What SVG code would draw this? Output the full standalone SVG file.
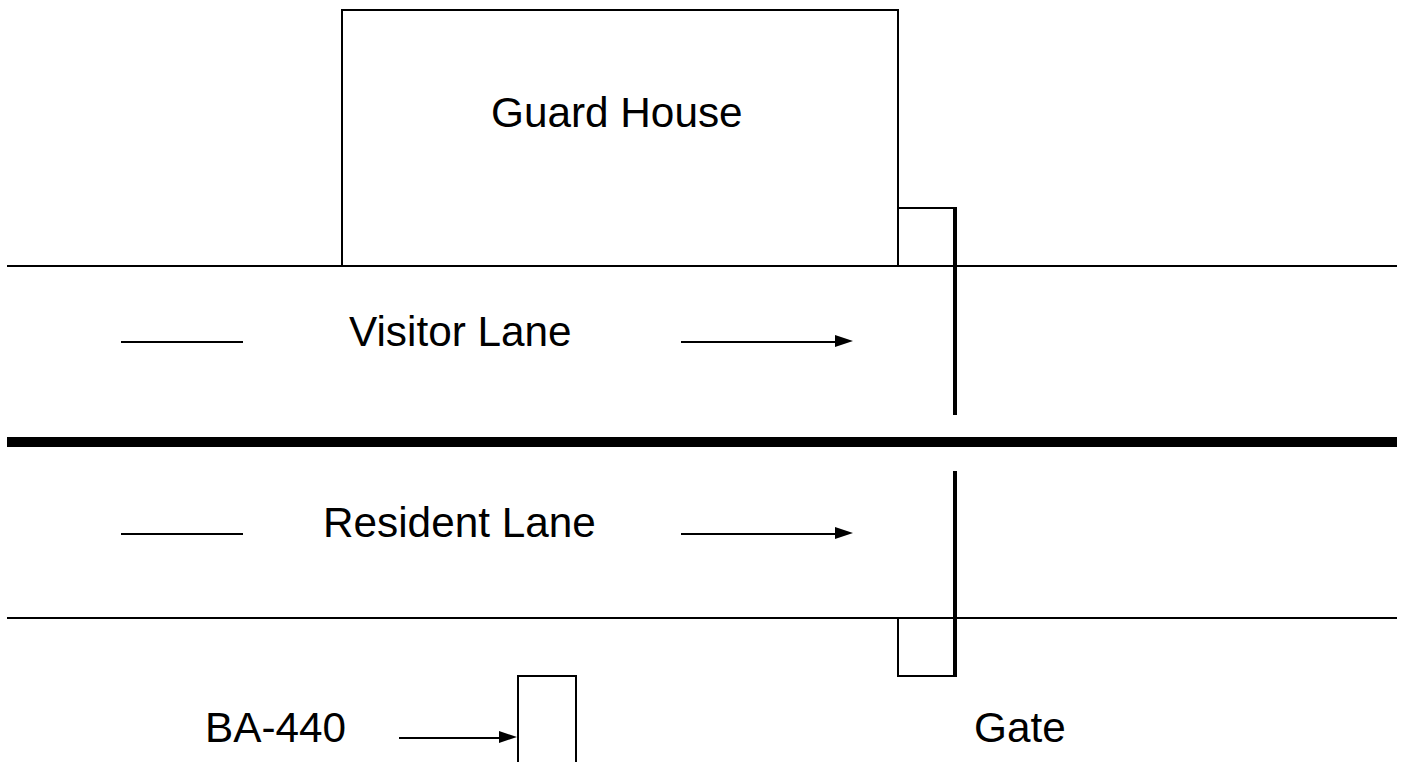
<svg xmlns="http://www.w3.org/2000/svg" width="1405" height="762" viewBox="0 0 1405 762">
<style>
.l{fill:none;stroke:#000;stroke-width:2}
.t{fill:none;stroke:#000;stroke-width:4}
.a{fill:#000;stroke:none}
text{font-family:"Liberation Sans",Arial,sans-serif;font-size:42.3px;fill:#000;text-anchor:start}
</style>
<rect width="1405" height="762" fill="#fff"/>
<g id="guard-house"><path class="l" d="M342 266V10H898V266"/><text x="491" y="127">Guard House</text></g>
<g id="visitor-lane-label"><text x="349" y="345.5">Visitor Lane</text></g>
<g id="resident-lane-label"><text x="323" y="536.5">Resident Lane</text></g>
<g id="ba-440"><path class="l" d="M518 762V676H576V762"/><text x="205" y="742">BA-440</text></g>
<g id="gate-top"><path class="l" d="M898 208H955"/><path class="t" d="M955 207V415"/></g>
<g id="gate-bottom"><path class="l" d="M898 618V676H955"/><path class="t" d="M955 471V677"/><text x="974" y="742">Gate</text></g>
<g id="connectors">
<path class="l" d="M7 266H1397M7 618H1397"/>
<path fill="none" stroke="#000" stroke-width="10" d="M7 442H1397"/>
<path class="l" d="M121 342H243M681 342H836M121 534H243M681 534H836M399 738H500"/>
<path class="a" d="M835 335L853 341L835 347Z"/>
<path class="a" d="M835 527L853 533L835 539Z"/>
<path class="a" d="M499 731L517 737L499 743Z"/>
</g>
</svg>
